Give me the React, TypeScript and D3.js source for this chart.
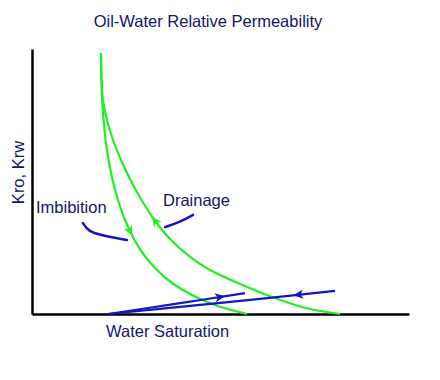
import React, { useEffect, useRef } from "react";
import * as d3 from "d3";

// Titles and labels
const chartTitle = "Oil-Water Relative Permeability";
const xAxisLabel = "Water Saturation";
const yAxisLabel = "Kro, Krw";
const imbibitionLabel = "Imbibition";
const drainageLabel = "Drainage";

// Kro – imbibition (Sw, kr)
const kroImbibitionSw = [0.183, 0.1841, 0.1862, 0.1899, 0.1952, 0.2032, 0.2138, 0.2281, 0.2467, 0.2719, 0.2971, 0.3316, 0.3714, 0.4244, 0.4854, 0.5385, 0.5703];
const kroImbibitionKr = [0.985, 0.883, 0.8075, 0.7321, 0.6566, 0.5811, 0.5057, 0.4302, 0.3547, 0.2792, 0.2226, 0.166, 0.117, 0.0717, 0.034, 0.0113, 0.0];

// Kro – drainage
const kroDrainageSw = [0.183, 0.1846, 0.1883, 0.1989, 0.2149, 0.2361, 0.2613, 0.2905, 0.3249, 0.3687, 0.4138, 0.4721, 0.5464, 0.6366, 0.7268, 0.817];
const kroDrainageKr = [0.985, 0.883, 0.8075, 0.7321, 0.6566, 0.5811, 0.5057, 0.4302, 0.3547, 0.2792, 0.2226, 0.166, 0.117, 0.0642, 0.0226, 0.0];

// Krw – imbibition
const krwImbibitionSw = [0.202, 0.38, 0.565];
const krwImbibitionKr = [0.0, 0.038, 0.079];

// Krw – drainage
const krwDrainageSw = [0.202, 0.5, 0.804];
const krwDrainageKr = [0.0, 0.042, 0.087];

// Direction arrows: Sw position on each curve and direction (+1 forward, -1 backward)
const arrowSw = [0.26, 0.326, 0.499, 0.706];
const arrowDir = [1, -1, 1, -1];

// Leader lines for the labels
const imbLeaderSw = [0.135, 0.149, 0.180, 0.252];
const imbLeaderKr = [0.343, 0.313, 0.298, 0.279];
const drnLeaderSw = [0.427, 0.393, 0.353];
const drnLeaderKr = [0.374, 0.347, 0.328];

const GREEN = "#22ee22";
const BLUE = "#1414c8";
const NAVY = "#14146e";
const FONT = "'Liberation Sans', Arial, sans-serif";

export default function App() {
  const ref = useRef<SVGSVGElement>(null);

  useEffect(() => {
    const svg = d3.select(ref.current);
    svg.selectAll("*").remove();

    const x = d3.scaleLinear().domain([0, 1]).range([32, 409]);
    const y = d3.scaleLinear().domain([0, 1]).range([314, 49]);

    const line = d3
      .line<[number, number]>()
      .x((d) => x(d[0]))
      .y((d) => y(d[1]))
      .curve(d3.curveCatmullRom.alpha(0.5));

    const zip = (a: number[], b: number[]) => a.map((v, i) => [v, b[i]] as [number, number]);

    // axes
    const xAxis = d3.axisBottom(x).tickValues([]).tickSizeOuter(0);
    const yAxis = d3.axisLeft(y).tickValues([]).tickSizeOuter(0);
    const gx = svg.append("g").attr("transform", `translate(0,${y(0)})`).call(xAxis);
    const gy = svg.append("g").attr("transform", `translate(${x(0)},0)`).call(yAxis);
    [gx, gy].forEach((g) =>
      g.select(".domain").attr("stroke", "#000").attr("stroke-width", 2.5)
    );

    const series = [
      { pts: zip(kroImbibitionSw, kroImbibitionKr), color: GREEN },
      { pts: zip(kroDrainageSw, kroDrainageKr), color: GREEN },
      { pts: zip(krwImbibitionSw, krwImbibitionKr), color: BLUE },
      { pts: zip(krwDrainageSw, krwDrainageKr), color: BLUE },
    ];

    const paths = series.map((s) =>
      svg
        .append("path")
        .attr("d", line(s.pts) as string)
        .attr("fill", "none")
        .attr("stroke", s.color)
        .attr("stroke-width", 2.2)
        .node() as SVGPathElement
    );

    // arrows
    series.forEach((s, i) => {
      const p = paths[i];
      const total = p.getTotalLength();
      const target = x(arrowSw[i]);
      let lo = 0,
        hi = total;
      for (let k = 0; k < 40; k++) {
        const mid = (lo + hi) / 2;
        if (p.getPointAtLength(mid).x < target) lo = mid;
        else hi = mid;
      }
      const L = (lo + hi) / 2;
      const pt = p.getPointAtLength(L);
      const a = p.getPointAtLength(Math.max(0, L - 2));
      const b = p.getPointAtLength(Math.min(total, L + 2));
      let ang = (Math.atan2(b.y - a.y, b.x - a.x) * 180) / Math.PI;
      if (arrowDir[i] < 0) ang += 180;
      svg
        .append("path")
        .attr("d", "M5,0 L-5,-4.5 L-2.5,0 L-5,4.5 Z")
        .attr("fill", s.color)
        .attr("transform", `translate(${pt.x},${pt.y}) rotate(${ang})`);
    });

    // leader lines
    const leader = d3
      .line<[number, number]>()
      .x((d) => x(d[0]))
      .y((d) => y(d[1]))
      .curve(d3.curveBasis);
    [zip(imbLeaderSw, imbLeaderKr), zip(drnLeaderSw, drnLeaderKr)].forEach((pts) =>
      svg
        .append("path")
        .attr("d", leader(pts) as string)
        .attr("fill", "none")
        .attr("stroke", BLUE)
        .attr("stroke-width", 2.5)
        .attr("stroke-linecap", "round")
    );

    const text = (t: string, tx: number, ty: number, anchor = "start", rot = 0) =>
      svg
        .append("text")
        .attr("transform", `translate(${tx},${ty}) rotate(${rot})`)
        .attr("text-anchor", anchor)
        .attr("font-family", FONT)
        .attr("font-size", 16.5)
        .attr("fill", NAVY)
        .text(t);

    text(chartTitle, 208, 27, "middle");
    text(yAxisLabel, 23.5, 172.5, "middle", -90);
    text(xAxisLabel, 106, 337);
    text(imbibitionLabel, 36, 213);
    text(drainageLabel, 163, 206);
  }, []);

  return (
    <svg
      ref={ref}
      width={440}
      height={380}
      style={{ position: "absolute", left: 0, top: 0, display: "block", background: "#fff" }}
    />
  );
}
